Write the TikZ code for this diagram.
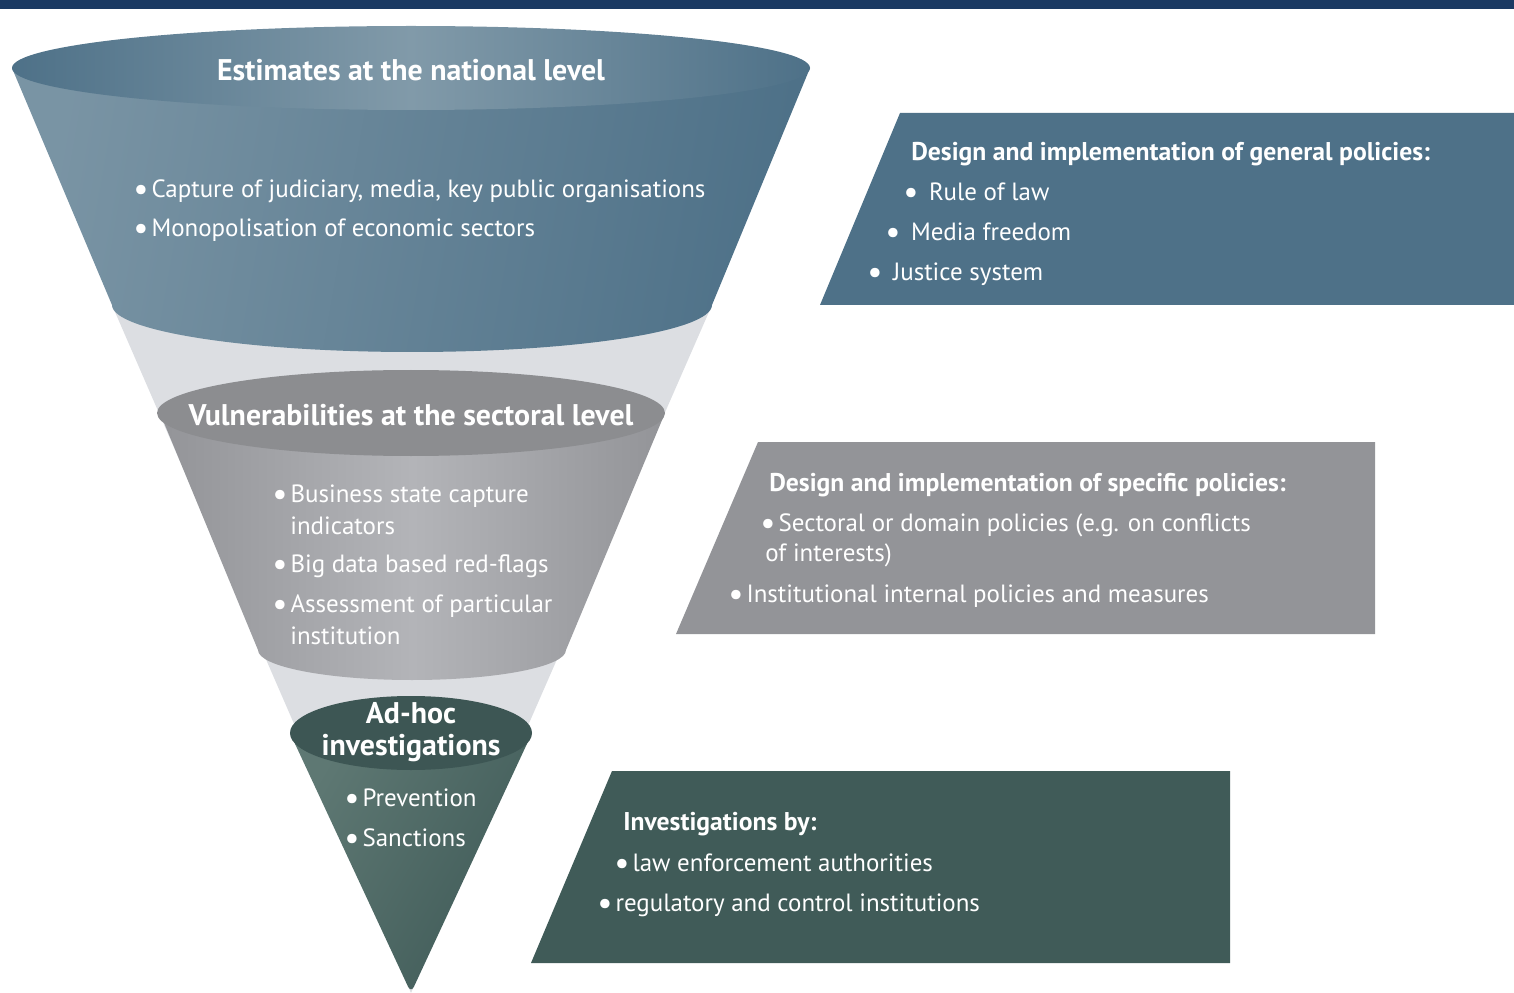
\documentclass[tikz,border=0pt]{standalone}
\usepackage{fontspec}
\setmainfont{PT Sans}
\usetikzlibrary{positioning}
\definecolor{navy}{HTML}{1B3A63}
\definecolor{steel}{HTML}{4E7188}
\definecolor{steellt}{HTML}{819AA9}
\definecolor{conegrey}{HTML}{DCDEE2}
\definecolor{midgrey}{HTML}{939498}
\definecolor{midgreylt}{HTML}{B3B4B8}
\definecolor{pine}{HTML}{405B58}
\definecolor{pinelt}{HTML}{5E7873}
\newcommand\bul{\raisebox{-0.12em}{\scalebox{1.35}{•}}\hspace{0.12em}}

\begin{document}
\begin{tikzpicture}[x=0.2mm,y=-0.2mm,
hd/.style = {% level headings
    text=white, inner sep=0pt, align=center,
    font=\bfseries\fontsize{17}{18.2}\selectfont,
            },
bt/.style = {% bullet lines
    text=white, inner sep=0pt, anchor=west, yshift=-1.1pt,
    font=\fontsize{14.2}{16}\selectfont,
            },
bh/.style = {% box headings
    bt, font=\bfseries\fontsize{14.6}{16}\selectfont,
            },
                        ]
\useasboundingbox (0,0) rectangle (1514,993);
% top bar
\fill[navy] (0,0) rectangle (1514,9);
% cone behind the levels
\fill[conegrey] (112,305) -- (411,993) -- (712,305) -- cycle;
% national level
\shade[left color=steellt!85!steel, right color=steel, shading angle=80]
    (12,68) -- (112,305) arc[start angle=180, end angle=0, x radius=300, y radius=47]
    -- (810,68) -- cycle;
\shade[left color=steel, right color=steel, middle color=steellt]
    (411,68) ellipse[x radius=399, y radius=42];
% sectoral level
\shade[left color=midgrey, right color=midgrey, middle color=midgreylt]
    (160,413) -- (258,650) arc[start angle=180, end angle=0, x radius=154, y radius=30]
    -- (665,413) -- cycle;
\fill[midgrey!95!black] (411,413) ellipse[x radius=254, y radius=43];
% ad-hoc level
\shade[left color=pinelt, right color=pine, shading angle=60, rounded corners=4]
    (290,733) -- (411,993) -- (532,733) -- cycle;
\fill[pine!95!black] (411,733) ellipse[x radius=121, y radius=37];
% policy boxes
\fill[steel] (900,113) -- (1514,113) -- (1514,305) -- (820,305) -- cycle;
\fill[midgrey] (758,442) -- (1375,442) -- (1375,634) -- (676,634) -- cycle;
\fill[pine] (612,771) -- (1230,771) -- (1230,963) -- (531,963) -- cycle;
% funnel texts
\node[hd] (natT) at (411,70) {Estimates at the national level};
\node[bt] (nat1) at (133,189) {\bul Capture of judiciary, media, key public organisations};
\node[bt] (nat2) at (133,228) {\bul Monopolisation of economic sectors};
\node[hd] (secT) at (411,415) {Vulnerabilities at the sectoral level};
\node[bt] (sec1) at (272,494) {\bul Business state capture};
\node[bt] (sec1b) at (290,524) {indicators};
\node[bt] (sec2) at (272,564) {\bul Big data based red-flags};
\node[bt] (sec3) at (272,604) {\bul Assessment of particular};
\node[bt] (sec3b) at (290,634) {institution};
\node[hd] (adhT) at (411,732) {Ad-hoc\\investigations};
\node[bt] (adh1) at (344,797) {\bul Prevention};
\node[bt] (adh2) at (344,837) {\bul Sanctions};
% box texts
\node[bh] (genT) at (911,152) {Design and implementation of general policies:};
\foreach \x/\y/\t [count=\i] in {903/191/Rule of law, 885/231/Media freedom, 867/272/Justice system}
    {\node[bt] (gen\i) at (\x,\y) {\bul\hspace{0.3em}\t};}
\node[bh] (speT) at (769,483) {Design and implementation of specific policies:};
\node[bt] (spe1) at (760,523) {\bul Sectoral or domain policies (e.g. on conflicts};
\node[bt] (spe1b) at (765,553) {of interests)};
\node[bt] (spe2) at (728,594) {\bul Institutional internal policies and measures};
\node[bh] (invT) at (623,822) {Investigations by:};
\node[bt] (inv1) at (614,862) {\bul law enforcement authorities};
\node[bt] (inv2) at (597,903) {\bul regulatory and control institutions};
\end{tikzpicture}
\end{document}
